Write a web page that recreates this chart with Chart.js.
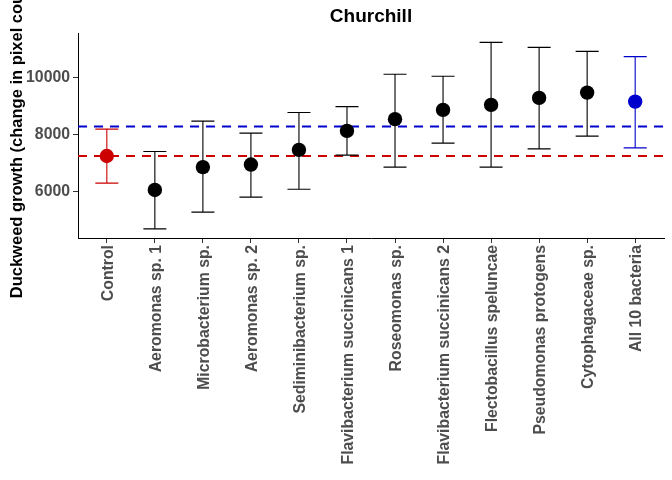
<!doctype html>
<html lang="en">
<head>
    <meta charset="UTF-8">
    <title>Churchill</title>
    <style>
        body {
            margin: 0;
            background-color: #ffffff;
        }
        #chart-box {
            width: 672px;
            height: 480px;
        }
    </style>
    <script src="https://cdn.jsdelivr.net/npm/chart.js"></script>
</head>
<body>
<div id="chart-box">
    <canvas id="myChart" width="672" height="480"></canvas>
</div>

<script>
    // values
    const treatments = [
        'Control', 'Aeromonas sp. 1', 'Microbacterium sp.', 'Aeromonas sp. 2',
        'Sediminibacterium sp.', 'Flavibacterium succinicans 1', 'Roseomonas sp.',
        'Flavibacterium succinicans 2', 'Flectobacillus speluncae',
        'Pseudomonas protogens', 'Cytophagaceae sp.', 'All 10 bacteria'
    ];
    const meanGrowth = [7250, 6060, 6860, 6950, 7465, 8130, 8540, 8865, 9040, 9285, 9470, 9155];
    const upperBar   = [8190, 7405, 8470, 8050, 8770, 8980, 10110, 10040, 11230, 11055, 10915, 10730];
    const lowerBar   = [6300, 4695, 5285, 5810, 6085, 7280, 6860, 7700, 6860, 7500, 7945, 7535];
    const controlLine = 7250;
    const overallLine = 8280;
    const yTicks = [6000, 8000, 10000];

    const RED = '#CC0000';
    const BLUE = '#0000CC';
    const tickFont = { family: 'Liberation Sans, Arial, sans-serif', size: 15.8, weight: 'bold' };

    function pointColor(i) {
        if (i === 0) return RED;
        if (i === treatments.length - 1) return BLUE;
        return '#000000';
    }

    // ggplot centres the title over the panel, not the whole canvas
    const panelTitle = {
        id: 'panelTitle',
        afterLayout(chart) {
            if (chart.titleBlock) {
                chart.titleBlock.left = chart.chartArea.left;
                chart.titleBlock.right = chart.chartArea.right;
                chart.titleBlock.width = chart.chartArea.right - chart.chartArea.left;
            }
        }
    };

    const refLines = {
        id: 'refLines',
        beforeDatasetsDraw(chart) {
            const { ctx, chartArea, scales } = chart;
            ctx.save();
            ctx.lineWidth = 2;
            ctx.setLineDash([9, 7]);
            [[controlLine, RED], [overallLine, BLUE]].forEach(([v, c]) => {
                const y = scales.y.getPixelForValue(v);
                ctx.strokeStyle = c;
                ctx.beginPath();
                ctx.moveTo(chartArea.left, y);
                ctx.lineTo(chartArea.right, y);
                ctx.stroke();
            });
            ctx.restore();

            // error bars
            ctx.save();
            ctx.lineWidth = 1.1;
            const half = 11.5;
            meanGrowth.forEach((m, i) => {
                const x = scales.x.getPixelForValue(i);
                const yt = scales.y.getPixelForValue(upperBar[i]);
                const yb = scales.y.getPixelForValue(lowerBar[i]);
                ctx.strokeStyle = pointColor(i);
                ctx.beginPath();
                ctx.moveTo(x, yt); ctx.lineTo(x, yb);
                ctx.moveTo(x - half, yt); ctx.lineTo(x + half, yt);
                ctx.moveTo(x - half, yb); ctx.lineTo(x + half, yb);
                ctx.stroke();
            });
            ctx.restore();
        }
    };

    const ctx = document.getElementById('myChart').getContext('2d');
    new Chart(ctx, {
        type: 'scatter',
        data: {
            datasets: [{
                data: meanGrowth.map((v, i) => ({ x: i, y: v })),
                pointRadius: 7.2,
                pointHoverRadius: 7.2,
                pointBorderWidth: 0,
                pointBackgroundColor: treatments.map((_, i) => pointColor(i)),
                pointBorderColor: treatments.map((_, i) => pointColor(i))
            }]
        },
        options: {
            responsive: false,
            animation: false,
            events: [],
            layout: { padding: { left: 0, right: 8, top: 0, bottom: 0 } },
            plugins: {
                legend: { display: false },
                tooltip: { enabled: false },
                title: {
                    display: true,
                    text: 'Churchill',
                    color: '#000000',
                    font: { family: 'Liberation Sans, Arial, sans-serif', size: 19, weight: 'bold', lineHeight: 1.2 },
                    padding: { top: 5.5, bottom: 4.7 }
                }
            },
            scales: {
                x: {
                    type: 'linear',
                    min: -0.6,
                    max: 11.6,
                    afterBuildTicks: s => { s.ticks = treatments.map((_, i) => ({ value: i })); },
                    afterFit: s => { s.height = 242; },
                    border: { display: true, color: '#000000', width: 1 },
                    grid: { drawOnChartArea: false, color: '#333333', tickLength: 5 },
                    ticks: {
                        autoSkip: false,
                        minRotation: 90,
                        maxRotation: 90,
                        padding: 2,
                        labelOffset: 1.5,
                        color: '#4D4D4D',
                        font: tickFont,
                        callback: v => treatments[v]
                    }
                },
                y: {
                    min: 4377,
                    max: 11557,
                    afterBuildTicks: s => { s.ticks = yTicks.map(v => ({ value: v })); },
                    afterFit: s => { s.width = 78; },
                    border: { display: true, color: '#000000', width: 1 },
                    grid: { drawOnChartArea: false, color: '#333333', tickLength: 5 },
                    ticks: {
                        padding: 3,
                        color: '#4D4D4D',
                        font: tickFont,
                        callback: v => String(v)
                    },
                    title: {
                        display: true,
                        text: 'Duckweed growth (change in pixel count)',
                        color: '#000000',
                        font: { family: 'Liberation Sans, Arial, sans-serif', size: 16.5, weight: 'bold' },
                        padding: { top: 8, bottom: 0 }
                    }
                }
            }
        },
        plugins: [refLines, panelTitle]
    });
</script>
</body>
</html>
